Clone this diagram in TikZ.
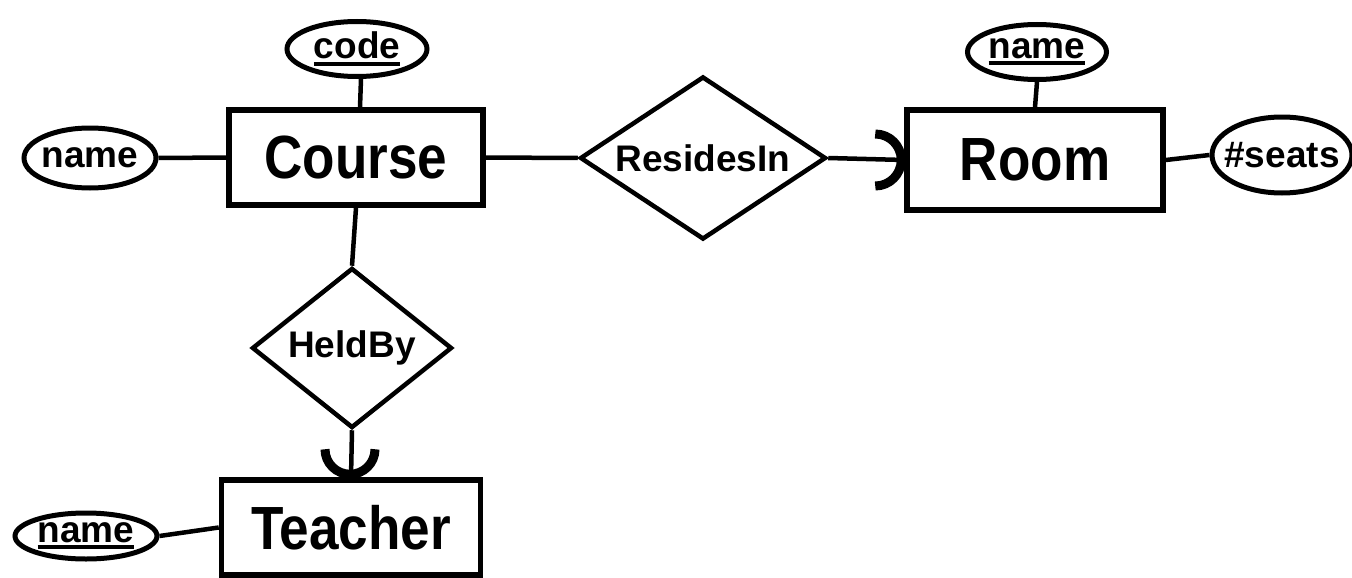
\documentclass[tikz,border=0pt]{standalone}
\usepackage{fontspec}
\setmainfont{Liberation Sans}
\newfontfamily\bigfont{Liberation Sans}[FakeStretch=0.87]
\usetikzlibrary{shapes.geometric}
\newcommand\keyul[1]{\setbox0\hbox{#1}\rlap{\rule[-7pt]{\wd0}{4pt}}\box0}
\begin{document}
\begin{tikzpicture}[x=1pt,y=-1pt,
  entity/.style={draw, line width=5.5pt, rectangle, inner sep=0pt, font=\bigfont\bfseries\fontsize{61}{72}\selectfont},
  attr/.style={draw, ellipse, line width=5pt, inner sep=0pt},
  attrtext/.style={font=\bfseries\fontsize{37}{40}\selectfont},
  rel/.style={draw, diamond, line width=4.5pt, inner sep=0pt, font=\bfseries\fontsize{37}{40}\selectfont},
  conn/.style={line width=4.5pt},
  crow/.style={line width=9pt}]
\useasboundingbox (0,0) rectangle (1352,578);

% entities
\node[entity, minimum width=254pt, minimum height=95pt] (Course) at (356,157.5) {Course};
\node[entity, minimum width=256pt, minimum height=100pt] (Room) at (1035,160) {Room};
\node[entity, minimum width=259pt, minimum height=95pt] (Teacher) at (351,527.5) {Teacher};

% relationships
\node[rel, shape aspect=1.5, minimum width=246pt, minimum height=163pt] (ResidesIn) at (703,158) {ResidesIn};
\node[rel, shape aspect=1.25, minimum width=200pt, minimum height=160pt] (HeldBy) at (352,348) {HeldBy};

% attributes
\node[attr, minimum width=140pt, minimum height=55pt, label={[attrtext]center:\keyul{code}}] (code) at (357,49) {};
\node[attr, minimum width=132pt, minimum height=60pt, label={[attrtext]center:name}] (cname) at (90,158) {};
\node[attr, minimum width=139pt, minimum height=55pt, label={[attrtext]center:\keyul{name}}] (rname) at (1037,52) {};
\node[attr, minimum width=140pt, minimum height=76pt, label={[attrtext]center:\#seats}] (seats) at (1282,155) {};
\node[attr, minimum width=142pt, minimum height=46pt, label={[attrtext]center:\keyul{name}}] (tname) at (86,536) {};

% connectors
\draw[conn] ([xshift=4pt]code.south) -- ([xshift=4pt]Course.north);
\draw[conn] (cname.east) -- (Course.west);
\draw[conn] (rname.south) -- (Room.north);
\draw[conn] (Room.east) -- (seats.west);
\draw[conn] (tname.east) -- (Teacher.west);
\draw[conn] (Course.east) -- (ResidesIn.west);
\draw[conn] (ResidesIn.east) -- (Room.west);
\draw[conn] (Course.south) -- (HeldBy.north);
\draw[conn] (HeldBy.south) -- (Teacher.north);

% crow-like arcs
\draw[crow] ([xshift=-29pt, yshift=26pt]Room.west) arc[start angle=90, end angle=-90, radius=26pt];
\draw[crow] ([xshift=-26pt, yshift=28pt]Teacher.north) arc[start angle=180, end angle=360, radius=25pt];
\end{tikzpicture}
\end{document}
